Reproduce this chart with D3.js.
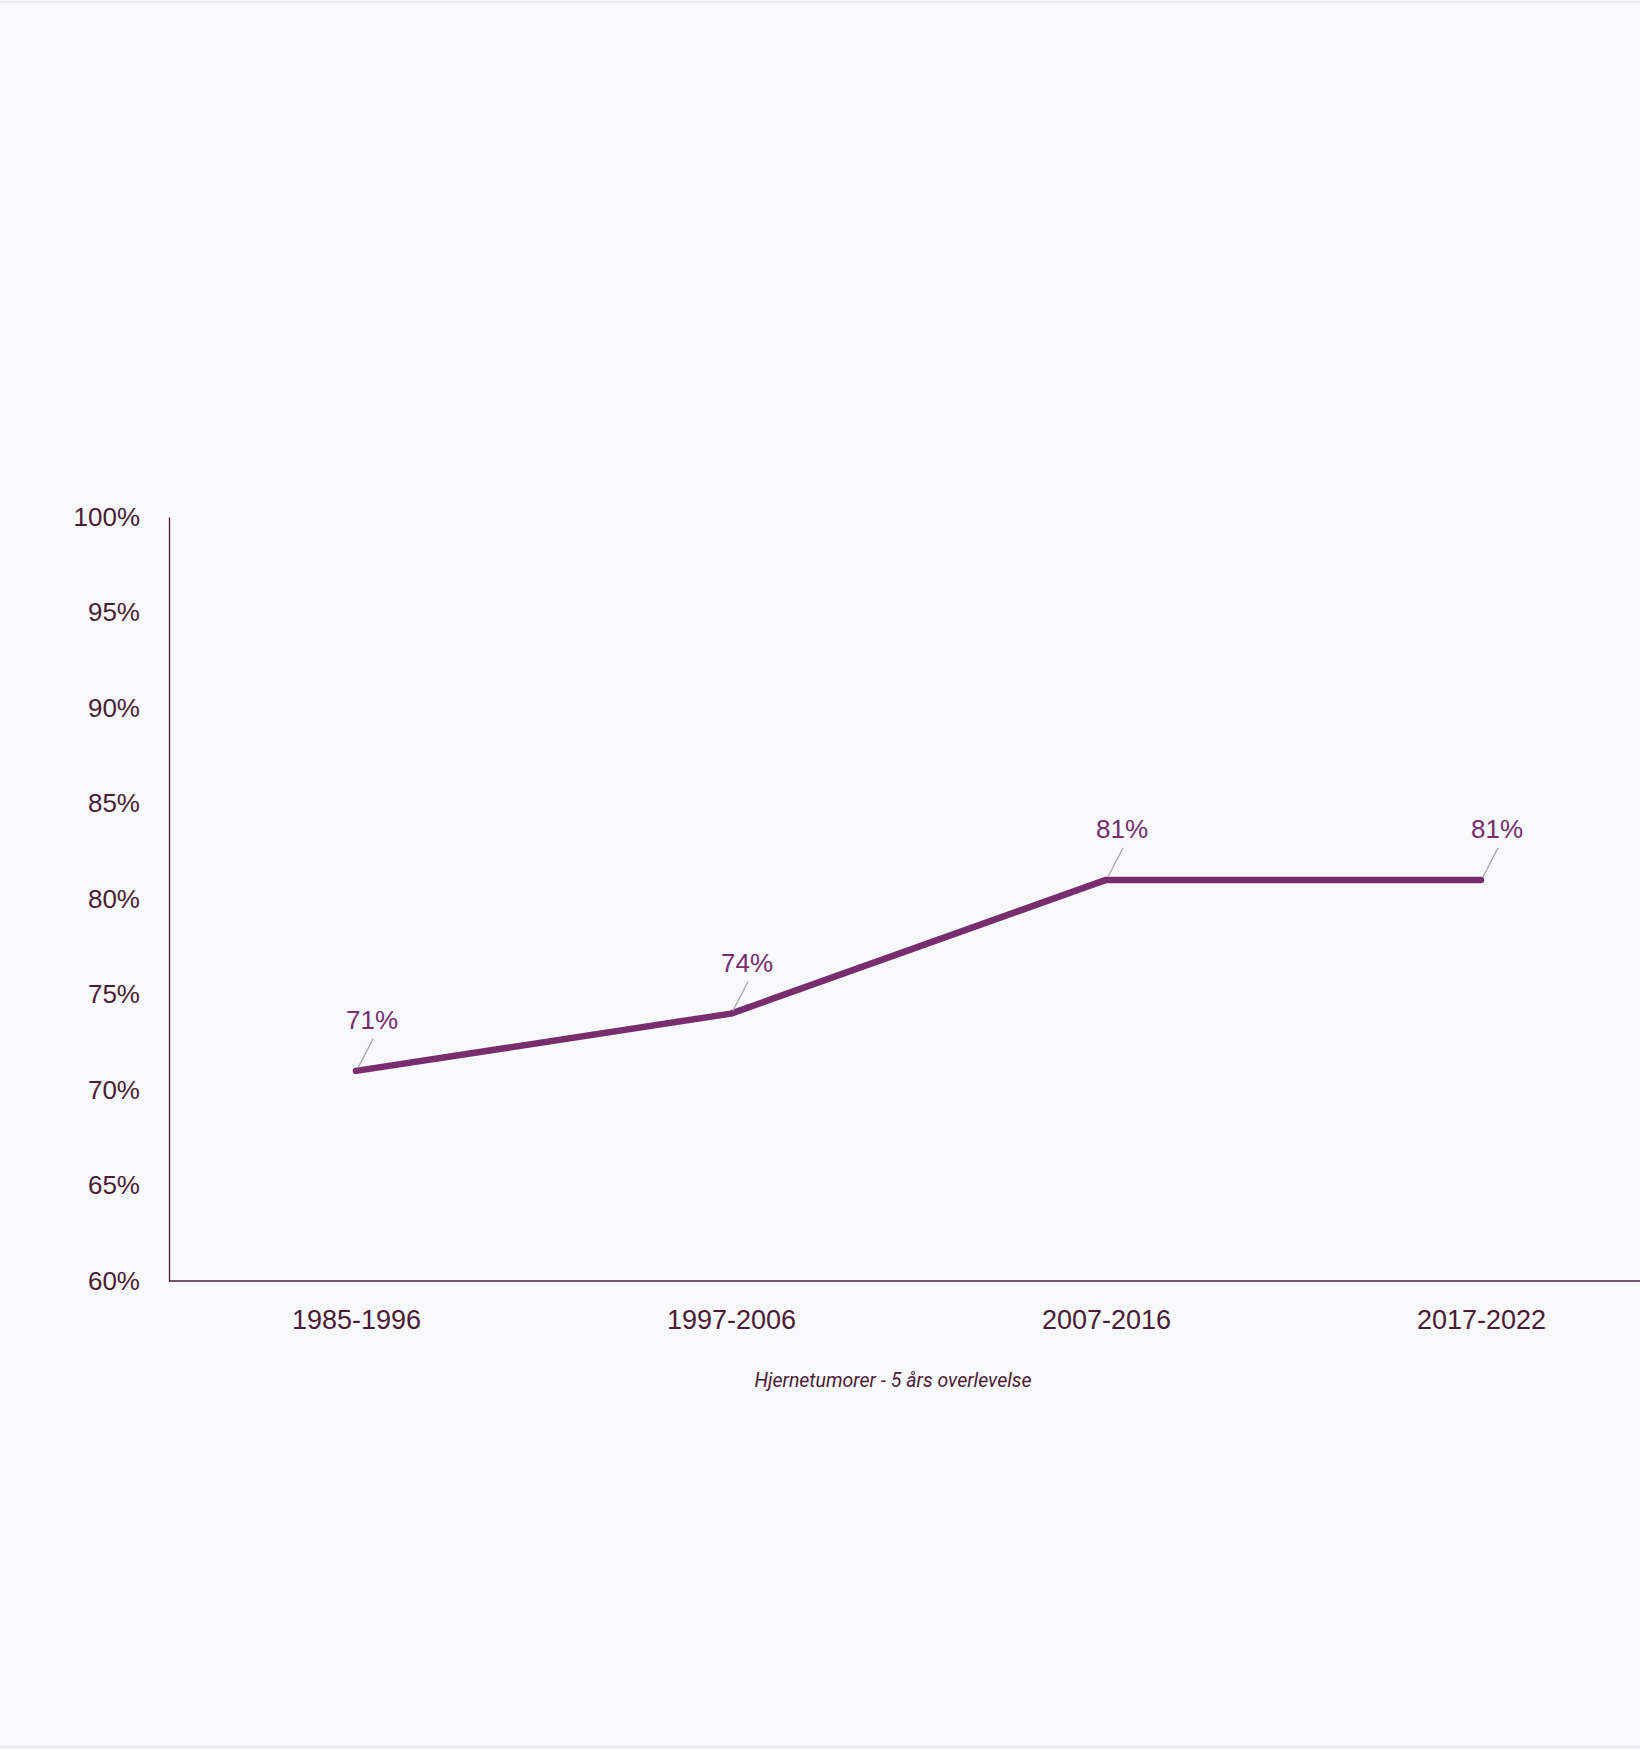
<!DOCTYPE html>
<html>
<head>
  <script src="https://d3js.org/d3.v7.min.js"></script>
  <style>
    body { margin: 0; background: #f8f9fb; }
    svg { display: block; font-family: "Liberation Sans", Arial, sans-serif; }
  </style>
</head>
<body>
<svg id="chart" width="1640" height="1750"></svg>
<script>
  var periods = ["1985-1996", "1997-2006", "2007-2016", "2017-2022"];
  var survival = [71, 74, 81, 81];
  var yTicks = [60, 65, 70, 75, 80, 85, 90, 95, 100];
  var caption = "Hjernetumorer - 5 års overlevelse";

  var svg = d3.select("#chart");
  var dark = "#4b1c36", purple = "#772d6e";

  svg.append("rect").attr("width", 1640).attr("height", 1750).attr("fill", "#f8f9fb");
  svg.append("line").attr("x1", 0).attr("x2", 1640).attr("y1", 2).attr("y2", 2).attr("stroke", "#dcdde0");
  svg.append("line").attr("x1", 0).attr("x2", 1640).attr("y1", 1747).attr("y2", 1747).attr("stroke", "#dcdde0");

  var x = d3.scalePoint(periods, [356, 1481]);
  var y = d3.scaleLinear([60, 100], [1281, 517]);

  // y axis
  var yAxis = svg.append("g").attr("transform", "translate(169,0)")
    .call(d3.axisLeft(y).tickValues(yTicks).tickSize(0).tickPadding(29).tickFormat(d => d + "%"));
  yAxis.select(".domain").attr("stroke", dark).attr("stroke-width", 1.3);
  yAxis.selectAll("text").attr("font-size", 26).attr("fill", dark);

  // x axis
  var xAxis = svg.append("g").attr("transform", "translate(0,1281)")
    .call(d3.axisBottom(x).tickSize(0).tickPadding(29));
  xAxis.select(".domain").attr("d", "M169,0H1640").attr("stroke", dark).attr("stroke-width", 1.3);
  xAxis.selectAll("text").attr("font-size", 27).attr("fill", dark);

  var pts = periods.map((p, i) => ({ p: p, v: survival[i] }));

  svg.append("path").datum(pts)
    .attr("fill", "none").attr("stroke", purple).attr("stroke-width", 6.5)
    .attr("stroke-linecap", "round").attr("stroke-linejoin", "round")
    .attr("d", d3.line().x(d => x(d.p)).y(d => y(d.v)));

  // leader lines + labels
  var lab = svg.append("g");
  lab.selectAll("line").data(pts).join("line")
    .attr("x1", d => x(d.p) + 2).attr("y1", d => y(d.v) - 3)
    .attr("x2", d => x(d.p) + 17).attr("y2", d => y(d.v) - 32)
    .attr("stroke", "#a9a9a9").attr("stroke-width", 1.2);
  lab.selectAll("text").data(pts).join("text")
    .attr("x", d => x(d.p) + 16).attr("y", d => y(d.v) - 42)
    .attr("text-anchor", "middle").attr("font-size", 26).attr("fill", purple)
    .text(d => d.v + "%");

  svg.append("text").attr("x", 893).attr("y", 1387)
    .attr("text-anchor", "middle").attr("font-size", 19.5).attr("font-style", "italic")
    .attr("font-family", "Roboto, sans-serif").attr("fill", dark)
    .text(caption);
</script>
</body>
</html>
